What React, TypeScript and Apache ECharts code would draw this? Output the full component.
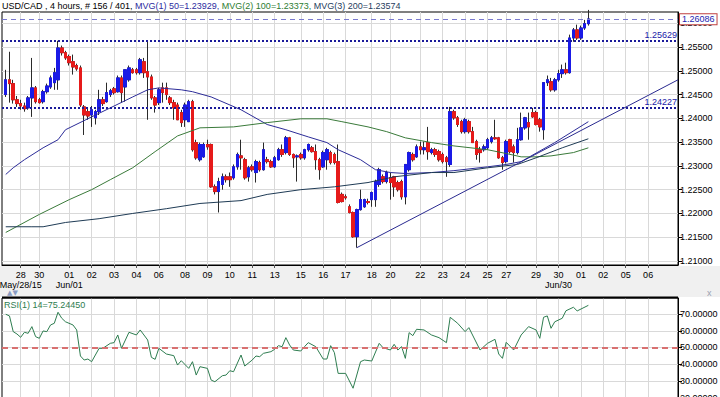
import React, { useEffect, useRef } from "react";
import * as echarts from "echarts";

// ---------- categories / ticks ----------
const N_CATS = 182;
const tickIdx = [5, 10, 18, 24, 30, 36, 42, 49, 55, 61, 67, 73, 80, 86, 92, 99, 104, 112, 118, 124, 130, 135, 143, 149, 155, 161, 167, 173];
const tickLabels = ["28", "30", "01", "02", "03", "04", "06", "08", "09", "10", "11", "13", "15", "16", "17", "18", "20", "22", "23", "24", "25", "27", "29", "30", "01", "02", "05", "06"];
const subLabelIdx = [5, 18, 149];
const subLabels = ["May/28/15", "Jun/01", "Jun/30"];

const priceTicks = [1.21, 1.215, 1.22, 1.225, 1.23, 1.235, 1.24, 1.245, 1.25, 1.255, 1.26];
const rsiTicks = [20, 30, 40, 50, 60, 70];

// ---------- candles (index 1..157) ----------
const FIRST_IDX = 1;
const open = [
  1.2450, 1.2481, 1.2473, 1.2439, 1.2431, 1.2426, 1.2422, 1.2443, 1.2464, 1.2439,
  1.2435, 1.2456, 1.2466, 1.2475, 1.2481, 1.2548, 1.2538, 1.2530, 1.2519, 1.2511,
  1.2506, 1.2424, 1.2414, 1.2407, 1.2401, 1.2414, 1.2439, 1.2435, 1.2450, 1.2462,
  1.2456, 1.2485, 1.2466, 1.2481, 1.2502, 1.2502, 1.2496, 1.2519, 1.2498, 1.2487,
  1.2443, 1.2433, 1.2464, 1.2464, 1.2443, 1.2433, 1.2428, 1.2412, 1.2397, 1.2393,
  1.2435, 1.2349, 1.2313, 1.2319, 1.2345, 1.2345, 1.2256, 1.2246, 1.2261, 1.2277,
  1.2277, 1.2275, 1.2298, 1.2321, 1.2313, 1.2277, 1.2298, 1.2286, 1.2307, 1.2292,
  1.2313, 1.2309, 1.2298, 1.2313, 1.2334, 1.2328, 1.2359, 1.2324, 1.2319, 1.2324,
  1.2317, 1.2334, 1.2338, 1.2330, 1.2313, 1.2298, 1.2313, 1.2328, 1.2324, 1.2309,
  1.2240, 1.2235, 1.2214, 1.2202, 1.2151, 1.2208, 1.2214, 1.2225, 1.2229, 1.2229,
  1.2261, 1.2277, 1.2267, 1.2275, 1.2277, 1.2265, 1.2267, 1.2235, 1.2292, 1.2324,
  1.2319, 1.2340, 1.2334, 1.2349, 1.2328, 1.2334, 1.2330, 1.2324, 1.2317, 1.2303,
  1.2414, 1.2401, 1.2393, 1.2372, 1.2393, 1.2372, 1.2351, 1.2334, 1.2334, 1.2338,
  1.2351, 1.2359, 1.2359, 1.2317, 1.2309, 1.2355, 1.2340, 1.2328, 1.2355, 1.2380,
  1.2391, 1.2412, 1.2412, 1.2397, 1.2376, 1.2475, 1.2477, 1.2460, 1.2481, 1.2494,
  1.2502, 1.2496, 1.2569, 1.2586, 1.2569, 1.2590, 1.2599,
];
const close = [
  1.2481, 1.2473, 1.2439, 1.2431, 1.2426, 1.2420, 1.2443, 1.2464, 1.2435, 1.2433,
  1.2456, 1.2468, 1.2485, 1.2496, 1.2548, 1.2538, 1.2527, 1.2517, 1.2508, 1.2504,
  1.2428, 1.2407, 1.2405, 1.2418, 1.2414, 1.2439, 1.2431, 1.2454, 1.2458, 1.2454,
  1.2485, 1.2454, 1.2502, 1.2506, 1.2496, 1.2496, 1.2523, 1.2496, 1.2487, 1.2443,
  1.2428, 1.2460, 1.2454, 1.2450, 1.2433, 1.2422, 1.2397, 1.2391, 1.2428, 1.2435,
  1.2334, 1.2317, 1.2345, 1.2345, 1.2340, 1.2256, 1.2246, 1.2267, 1.2277, 1.2271,
  1.2271, 1.2298, 1.2324, 1.2317, 1.2275, 1.2296, 1.2292, 1.2309, 1.2292, 1.2334,
  1.2309, 1.2298, 1.2317, 1.2334, 1.2324, 1.2359, 1.2324, 1.2317, 1.2321, 1.2317,
  1.2334, 1.2345, 1.2330, 1.2313, 1.2292, 1.2328, 1.2334, 1.2307, 1.2307, 1.2223,
  1.2225, 1.2233, 1.2202, 1.2151, 1.2208, 1.2229, 1.2229, 1.2223, 1.2244, 1.2267,
  1.2292, 1.2267, 1.2286, 1.2265, 1.2256, 1.2250, 1.2235, 1.2303, 1.2328, 1.2313,
  1.2340, 1.2334, 1.2338, 1.2330, 1.2334, 1.2324, 1.2313, 1.2309, 1.2309, 1.2414,
  1.2401, 1.2387, 1.2372, 1.2397, 1.2372, 1.2349, 1.2324, 1.2328, 1.2340, 1.2355,
  1.2359, 1.2357, 1.2317, 1.2307, 1.2351, 1.2330, 1.2328, 1.2355, 1.2380, 1.2401,
  1.2382, 1.2403, 1.2387, 1.2382, 1.2475, 1.2481, 1.2460, 1.2481, 1.2494, 1.2502,
  1.2496, 1.2569, 1.2586, 1.2569, 1.2590, 1.2599, 1.2609,
];
const high = [
  1.2502, 1.2540, 1.2481, 1.2447, 1.2439, 1.2433, 1.2447, 1.2527, 1.2468, 1.2443,
  1.2460, 1.2473, 1.2490, 1.2506, 1.2563, 1.2553, 1.2542, 1.2534, 1.2534, 1.2515,
  1.2511, 1.2428, 1.2422, 1.2426, 1.2418, 1.2460, 1.2445, 1.2475, 1.2462, 1.2466,
  1.2490, 1.2490, 1.2502, 1.2511, 1.2506, 1.2506, 1.2527, 1.2527, 1.2563, 1.2492,
  1.2447, 1.2464, 1.2475, 1.2475, 1.2447, 1.2439, 1.2433, 1.2418, 1.2433, 1.2439,
  1.2439, 1.2355, 1.2349, 1.2349, 1.2355, 1.2347, 1.2261, 1.2275, 1.2284, 1.2282,
  1.2286, 1.2303, 1.2328, 1.2355, 1.2317, 1.2300, 1.2303, 1.2313, 1.2311, 1.2349,
  1.2319, 1.2313, 1.2321, 1.2338, 1.2345, 1.2363, 1.2361, 1.2326, 1.2324, 1.2328,
  1.2336, 1.2347, 1.2342, 1.2345, 1.2317, 1.2332, 1.2338, 1.2332, 1.2328, 1.2345,
  1.2244, 1.2240, 1.2219, 1.2204, 1.2210, 1.2250, 1.2231, 1.2231, 1.2246, 1.2271,
  1.2296, 1.2282, 1.2290, 1.2286, 1.2279, 1.2269, 1.2271, 1.2303, 1.2330, 1.2328,
  1.2345, 1.2351, 1.2351, 1.2382, 1.2338, 1.2338, 1.2334, 1.2328, 1.2321, 1.2424,
  1.2418, 1.2405, 1.2397, 1.2401, 1.2397, 1.2382, 1.2355, 1.2340, 1.2345, 1.2359,
  1.2363, 1.2397, 1.2361, 1.2321, 1.2355, 1.2357, 1.2345, 1.2380, 1.2412, 1.2403,
  1.2412, 1.2422, 1.2416, 1.2401, 1.2475, 1.2490, 1.2485, 1.2485, 1.2502, 1.2513,
  1.2517, 1.2576, 1.2590, 1.2597, 1.2595, 1.2607, 1.2628,
];
const low = [
  1.2445, 1.2433, 1.2431, 1.2424, 1.2418, 1.2414, 1.2418, 1.2403, 1.2431, 1.2431,
  1.2431, 1.2452, 1.2462, 1.2460, 1.2460, 1.2532, 1.2523, 1.2511, 1.2492, 1.2500,
  1.2424, 1.2365, 1.2397, 1.2382, 1.2387, 1.2407, 1.2426, 1.2433, 1.2445, 1.2450,
  1.2454, 1.2433, 1.2435, 1.2477, 1.2494, 1.2492, 1.2492, 1.2485, 1.2397, 1.2439,
  1.2412, 1.2428, 1.2433, 1.2439, 1.2428, 1.2397, 1.2397, 1.2382, 1.2382, 1.2393,
  1.2330, 1.2313, 1.2309, 1.2317, 1.2334, 1.2254, 1.2240, 1.2202, 1.2250, 1.2265,
  1.2256, 1.2271, 1.2292, 1.2292, 1.2271, 1.2267, 1.2288, 1.2265, 1.2288, 1.2290,
  1.2305, 1.2296, 1.2296, 1.2311, 1.2319, 1.2324, 1.2321, 1.2296, 1.2267, 1.2313,
  1.2313, 1.2330, 1.2328, 1.2292, 1.2271, 1.2296, 1.2292, 1.2303, 1.2303, 1.2221,
  1.2223, 1.2229, 1.2200, 1.2149, 1.2128, 1.2206, 1.2212, 1.2219, 1.2214, 1.2214,
  1.2256, 1.2263, 1.2263, 1.2229, 1.2235, 1.2246, 1.2229, 1.2219, 1.2288, 1.2309,
  1.2317, 1.2324, 1.2324, 1.2313, 1.2324, 1.2319, 1.2309, 1.2305, 1.2277, 1.2298,
  1.2397, 1.2382, 1.2368, 1.2368, 1.2368, 1.2349, 1.2313, 1.2307, 1.2330, 1.2334,
  1.2347, 1.2355, 1.2315, 1.2292, 1.2305, 1.2326, 1.2307, 1.2324, 1.2353, 1.2376,
  1.2355, 1.2401, 1.2385, 1.2372, 1.2355, 1.2468, 1.2456, 1.2456, 1.2477, 1.2485,
  1.2492, 1.2494, 1.2561, 1.2565, 1.2565, 1.2586, 1.2595,
];

// ---------- moving averages [index, value] ----------
const ma50 = [[1, 1.2282], [3, 1.2296], [6, 1.2313], [11, 1.2338], [15, 1.2355], [17, 1.2376], [24, 1.2403], [29, 1.2422], [35, 1.2445], [39, 1.2460], [42, 1.2464], [48, 1.2460], [51, 1.2456], [56, 1.2445], [64, 1.2418], [71, 1.2387], [76, 1.2376], [82, 1.2361], [87, 1.2349], [90, 1.2334], [96, 1.2313], [100, 1.2292], [104, 1.2286], [108, 1.2284], [115, 1.2286], [121, 1.2290], [130, 1.2298], [135, 1.2303], [139, 1.2309], [148, 1.2349], [157, 1.2393]];
const ma100 = [[1, 1.2160], [10, 1.2198], [18, 1.2229], [24, 1.2250], [29, 1.2271], [35, 1.2296], [41, 1.2330], [47, 1.2363], [53, 1.2380], [62, 1.2382], [71, 1.2391], [80, 1.2399], [87, 1.2399], [91, 1.2393], [98, 1.2382], [103, 1.2372], [108, 1.2359], [115, 1.2349], [121, 1.2342], [130, 1.2334], [135, 1.2326], [139, 1.2319], [143, 1.2319], [147, 1.2321], [153, 1.2328], [157, 1.2338]];
const ma200 = [[1, 1.2172], [8, 1.2172], [11, 1.2172], [17, 1.2181], [26, 1.2189], [35, 1.2200], [44, 1.2210], [53, 1.2221], [64, 1.2227], [71, 1.2240], [80, 1.2250], [89, 1.2256], [98, 1.2265], [105, 1.2277], [115, 1.2286], [121, 1.2286], [130, 1.2296], [138, 1.2303], [143, 1.2317], [150, 1.2338], [157, 1.2357]];

// ---------- RSI [index, value] ----------
const rsi = [[1, 69.9], [2, 68.9], [3, 59.5], [4, 58.1], [5, 56.1], [6, 59.1], [7, 58.5], [8, 62.5], [9, 56.5], [10, 55.5], [11, 59.9], [12, 59.5], [13, 63.5], [14, 64.5], [15, 71.1], [16, 67.5], [17, 65.4], [19, 63.5], [20, 60.5], [21, 44.9], [22, 42.5], [23, 43.1], [24, 41.5], [26, 49.5], [27, 49.5], [29, 52.5], [30, 52.9], [31, 57.5], [32, 49.5], [34, 59.1], [36, 57.5], [37, 60.5], [39, 54.5], [40, 44.1], [41, 42.9], [42, 49.5], [44, 46.1], [46, 45.1], [47, 39.5], [48, 42.1], [50, 37.5], [51, 41.5], [52, 33.5], [53, 38.5], [55, 37.5], [56, 30.5], [57, 29.5], [59, 33.1], [60, 33.5], [61, 36.1], [62, 35.5], [64, 45.5], [65, 38.9], [67, 42.5], [68, 44.9], [69, 44.5], [70, 46.5], [72, 47.5], [73, 48.9], [74, 51.1], [75, 50.5], [76, 55.9], [77, 51.5], [78, 48.5], [80, 47.9], [81, 50.5], [82, 52.9], [84, 50.5], [86, 43.1], [87, 43.1], [88, 51.1], [89, 46.9], [90, 34.5], [92, 34.5], [94, 25.6], [96, 41.5], [97, 42.5], [99, 41.9], [101, 52.5], [102, 49.9], [104, 48.5], [105, 51.9], [106, 48.5], [107, 50.5], [108, 43.5], [109, 58.9], [110, 57.1], [111, 60.9], [113, 60.5], [115, 57.5], [117, 55.9], [119, 52.9], [120, 68.1], [122, 64.5], [124, 59.5], [125, 61.9], [128, 48.5], [130, 52.5], [132, 54.9], [133, 46.1], [134, 43.5], [135, 53.1], [137, 48.5], [139, 57.5], [141, 62.5], [143, 60.5], [144, 55.5], [145, 68.1], [146, 68.9], [147, 61.5], [148, 65.4], [150, 67.5], [151, 72.0], [153, 74.1], [154, 71.9], [157, 75.2445]];

// ---------- levels / texts ----------
const levelHigh = 1.25629;
const levelLow = 1.24227;
const lastPrice = 1.26086;
const lastRsi = 75.2445;
const trendLine = [[95, 1.2128], [181, 1.2481]];
const titleMain = "USD/CAD , 4 hours, # 156 / 401, ";
const maTitles = ["MVG(1) 50=1.23929, ", "MVG(2) 100=1.23373, ", "MVG(3) 200=1.23574"];
const rsiTitle = "RSI(1) 14=75.24450";

// ---------- geometry ----------
const Y_MIN = 1.209159;
const Y_MAX = 1.262359;
const RSI_MIN = 19.16;
const RSI_MAX = 79.64;

const FONT = "Liberation Sans, Arial, sans-serif";
const C_UP = "#1a1ae6";
const C_DN = "#e61a1a";
const C_WICK = "#2a2a2a";
const C_MA50 = "#2c2c98";
const C_MA100 = "#3a7a3a";
const C_MA200 = "#1f3b55";
const C_GRID = "#d9d9d9";

export default function App() {
  const ref = useRef<HTMLDivElement>(null);

  useEffect(() => {
    if (!ref.current) return;
    const chart = echarts.init(ref.current, undefined, { renderer: "svg" });

    const cats = Array.from({ length: N_CATS }, (_, i) => String(i));
    const labelAt = new Map<number, string>();
    tickIdx.forEach((k, i) => labelAt.set(k, tickLabels[i]));
    const subAt = new Map<number, string>();
    subLabelIdx.forEach((k, i) => subAt.set(k, subLabels[i]));
    const isTick = (i: number) => labelAt.has(i);
    const isSub = (i: number) => subAt.has(i);

    const wickData = cats.map((_, i) => {
      const k = i - FIRST_IDX;
      if (k < 0 || k >= open.length) return "-";
      const o = open[k], c = close[k];
      return [o, c, Math.min(low[k], o, c), Math.max(high[k], o, c)];
    });
    const bodyData = cats.map((_, i) => {
      const k = i - FIRST_IDX;
      if (k < 0 || k >= open.length) return "-";
      const o = open[k], c = close[k];
      return [o, c, Math.min(o, c), Math.max(o, c)];
    });

    const boxLabel = (text: string) => ({
      show: true,
      position: "end",
      formatter: text,
      color: "#1c1cb0",
      fontSize: 9,
      fontFamily: FONT,
      backgroundColor: "#ffffff",
      borderColor: "#c04040",
      borderWidth: 1,
      padding: [1, 2, 0, 2],
      distance: 2,
    });

    const baseLabel = {
      fontSize: 9,
      color: "#000",
      fontFamily: FONT,
      hideOverlap: false,
      showMinLabel: true,
      showMaxLabel: true,
    };

    const option: any = {
      animation: false,
      backgroundColor: "#ffffff",
      grid: [
        { left: 2, top: 12, width: 676, height: 253, show: true, borderColor: "#000", borderWidth: 1, backgroundColor: "#fff", outerBoundsMode: "none", containLabel: false },
        { left: 2, top: 298, width: 676, height: 101, show: true, borderColor: "#000", borderWidth: 1, backgroundColor: "#fff", outerBoundsMode: "none", containLabel: false },
      ],
      xAxis: [
        {
          type: "category",
          gridIndex: 0,
          data: cats,
          boundaryGap: false,
          axisLine: { show: true, lineStyle: { color: "#000" } },
          axisTick: { show: true, interval: (i: number) => isTick(i), length: 3, lineStyle: { color: "#555" } },
          axisLabel: {
            ...baseLabel,
            interval: (i: number) => isTick(i),
            formatter: (v: string) => labelAt.get(Number(v)) || "",
            margin: 5,
          },
          splitLine: { show: true, interval: (i: number) => isTick(i), lineStyle: { color: C_GRID } },
        },
        {
          type: "category",
          gridIndex: 0,
          data: cats,
          boundaryGap: false,
          position: "bottom",
          offset: 10,
          axisLine: { show: false },
          axisTick: { show: false },
          axisLabel: {
            ...baseLabel,
            interval: (i: number) => isSub(i),
            formatter: (v: string) => subAt.get(Number(v)) || "",
            margin: 5,
          },
          splitLine: { show: false },
        },
        {
          type: "category",
          gridIndex: 1,
          data: cats,
          boundaryGap: false,
          axisLine: { show: false },
          axisTick: { show: false },
          axisLabel: { show: false },
          splitLine: { show: true, interval: (i: number) => isTick(i), lineStyle: { color: C_GRID } },
        },
      ],
      yAxis: [
        {
          type: "value",
          gridIndex: 0,
          position: "right",
          min: Y_MIN,
          max: Y_MAX,
          axisLine: { show: true, lineStyle: { color: "#000" } },
          axisTick: { show: true, length: 4, customValues: priceTicks, lineStyle: { color: "#000" } },
          axisLabel: { customValues: priceTicks, formatter: (v: number) => v.toFixed(5), fontSize: 9, color: "#000", fontFamily: FONT, margin: 2 },
          splitLine: { show: true, lineStyle: { color: C_GRID } },
        },
        {
          type: "value",
          gridIndex: 1,
          position: "right",
          min: RSI_MIN,
          max: RSI_MAX,
          axisLine: { show: true, lineStyle: { color: "#000" } },
          axisTick: { show: true, length: 4, customValues: rsiTicks, lineStyle: { color: "#000" } },
          axisLabel: { customValues: rsiTicks, formatter: (v: number) => v.toFixed(5), fontSize: 9, color: "#000", fontFamily: FONT, margin: 2 },
          splitLine: { show: true, lineStyle: { color: C_GRID } },
        },
      ],
      series: [
        {
          type: "candlestick",
          name: "wicks",
          xAxisIndex: 0,
          yAxisIndex: 0,
          data: wickData,
          barWidth: 3,
          z: 2,
          itemStyle: { color: C_WICK, color0: C_WICK, borderColor: C_WICK, borderColor0: C_WICK, borderColorDoji: C_WICK, borderWidth: 1 },
        },
        {
          type: "candlestick",
          name: "bodies",
          xAxisIndex: 0,
          yAxisIndex: 0,
          data: bodyData,
          barWidth: 3,
          z: 3,
          itemStyle: { color: C_UP, color0: C_DN, borderColor: C_UP, borderColor0: C_DN, borderColorDoji: C_WICK, borderWidth: 1 },
          markLine: {
            silent: true,
            precision: 5,
            symbol: ["none", "none"],
            animation: false,
            data: [
              {
                yAxis: levelHigh,
                lineStyle: { type: [2, 2], color: "#1a1a9a", width: 2 },
                label: { show: true, position: "insideEndTop", formatter: levelHigh.toFixed(5), color: "#2020a8", fontSize: 9, fontFamily: FONT, distance: 1 },
              },
              {
                yAxis: levelLow,
                lineStyle: { type: [2, 2], color: "#1a1a9a", width: 2 },
                label: { show: true, position: "insideEndTop", formatter: levelLow.toFixed(5), color: "#2020a8", fontSize: 9, fontFamily: FONT, distance: 1 },
              },
              {
                yAxis: lastPrice,
                lineStyle: { type: [5, 4], color: "#7a7ad0", width: 1 },
                label: boxLabel(lastPrice.toFixed(5)),
              },
              [
                { coord: trendLine[0], lineStyle: { type: "solid", color: "#2a2a90", width: 1 }, label: { show: false } },
                { coord: trendLine[1] },
              ],
            ],
          },
        },
        {
          type: "line", name: "MA50", xAxisIndex: 0, yAxisIndex: 0, data: ma50, showSymbol: false, z: 4,
          lineStyle: { color: C_MA50, width: 1 }, itemStyle: { color: C_MA50 },
        },
        {
          type: "line", name: "MA100", xAxisIndex: 0, yAxisIndex: 0, data: ma100, showSymbol: false, z: 4,
          lineStyle: { color: C_MA100, width: 1 }, itemStyle: { color: C_MA100 },
        },
        {
          type: "line", name: "MA200", xAxisIndex: 0, yAxisIndex: 0, data: ma200, showSymbol: false, z: 4,
          lineStyle: { color: C_MA200, width: 1 }, itemStyle: { color: C_MA200 },
        },
        {
          type: "line", name: "RSI", xAxisIndex: 2, yAxisIndex: 1, data: rsi, showSymbol: false, z: 4,
          lineStyle: { color: "#2e7d50", width: 1 }, itemStyle: { color: "#2e7d50" },
          markLine: {
            silent: true,
            precision: 5,
            symbol: ["none", "none"],
            animation: false,
            data: [
              { yAxis: 50, lineStyle: { type: [6, 4], color: "#d87070", width: 2 }, label: { show: false } },
              { yAxis: lastRsi, lineStyle: { opacity: 0, width: 0 }, label: boxLabel(lastRsi.toFixed(5)) },
            ],
          },
        },
      ],
      graphic: [
        { type: "rect", z: -5, shape: { x: 0, y: 266, width: 720, height: 31 }, style: { fill: "#f0f0f0" } },
        { type: "rect", z: 10, shape: { x: 2, y: 296.5, width: 676, height: 2 }, style: { fill: "#000" } },
        {
          type: "text", z: 10, x: 2, y: 1,
          style: {
            text: `{a|${titleMain}}{b|${maTitles[0]}}{c|${maTitles[1]}}{d|${maTitles[2]}}`,
            fontSize: 9, fontFamily: FONT,
            rich: {
              a: { fill: "#000", fontSize: 9, fontFamily: FONT },
              b: { fill: "#2c2ca0", fontSize: 9, fontFamily: FONT },
              c: { fill: "#2e7d32", fontSize: 9, fontFamily: FONT },
              d: { fill: "#1f4060", fontSize: 9, fontFamily: FONT },
            },
          },
        },
        { type: "text", z: 10, x: 4, y: 300, style: { text: rsiTitle, fill: "#2e7d50", fontSize: 9, fontFamily: FONT } },
        { type: "text", z: 10, x: 7, y: 289, style: { text: "▲▼", fill: "#8a9cc4", fontSize: 7, fontFamily: "DejaVu Sans" } },
        { type: "text", z: 10, x: 707, y: 288, style: { text: "x", fill: "#9aa0b0", fontSize: 9, fontFamily: FONT } },
      ],
    };

    chart.setOption(option);
    return () => chart.dispose();
  }, []);

  return (
    <div
      ref={ref}
      style={{ position: "absolute", left: 0, top: 0, width: 720, height: 397, background: "#fff" }}
    />
  );
}
